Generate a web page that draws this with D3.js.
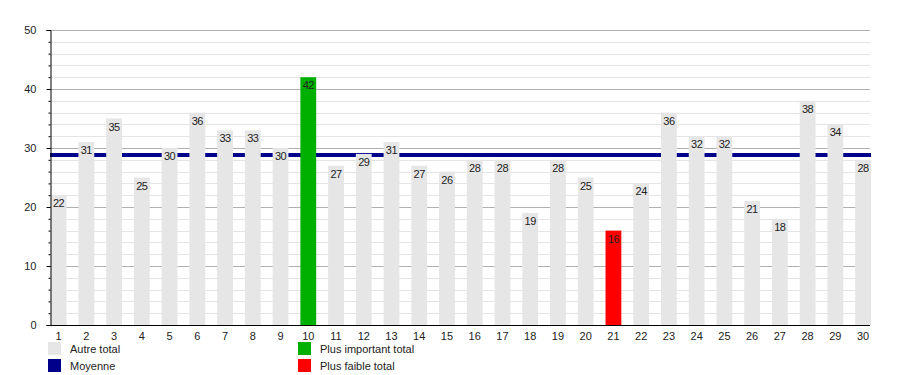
<!DOCTYPE html>
<html>
<head>
<meta charset="utf-8">
<script src="https://cdn.jsdelivr.net/npm/d3@7"></script>
<style>
  body { margin: 0; background: #fff; }
  svg { display: block; font-family: "Liberation Sans", Arial, sans-serif; }
</style>
</head>
<body>
<svg id="chart" width="900" height="375"></svg>
<script>
// data
var days = d3.range(1, 31).map(String);
var totals = [22, 31, 35, 25, 30, 36, 33, 33, 30, 42, 27, 29, 31, 27, 26,
              28, 28, 19, 28, 25, 16, 24, 36, 32, 32, 21, 18, 38, 34, 28];
var yTicks = [0, 10, 20, 30, 40, 50];
var legendItems = [
    {label: "Autre total", color: "#e6e6e6", col: 0, row: 0},
    {label: "Moyenne", color: "#00008b", col: 0, row: 1},
    {label: "Plus important total", color: "#00b000", col: 1, row: 0},
    {label: "Plus faible total", color: "#ff0000", col: 1, row: 1}
];

var svg = d3.select("#chart");
var plotLeft = 50, plotRight = 870, plotTop = 30, plotBottom = 325;

var x = d3.scaleBand()
    .domain(days)
    .range([plotLeft + 0.7, plotRight + 1])
    .paddingInner(0.43)
    .paddingOuter(0);

var y = d3.scaleLinear()
    .domain([0, 50])
    .range([plotBottom, plotTop]);

var maxV = d3.max(totals), minV = d3.min(totals);
var mean = d3.mean(totals);

var barColor = function(v) {
    if (v == maxV) return "#00b000";
    if (v == minV) return "#ff0000";
    return "#e6e6e6";
};

// grid: minor every 2, major every 10
var grid = svg.append("g");
grid.selectAll(".minor")
    .data(d3.range(2, 51, 2).filter(function(v) { return v % 10 != 0; }))
    .enter().append("line")
    .attr("x1", plotLeft).attr("x2", plotRight)
    .attr("y1", function(d) { return Math.round(y(d)) + 0.5; })
    .attr("y2", function(d) { return Math.round(y(d)) + 0.5; })
    .attr("stroke", "#e4e4e4");
grid.selectAll(".major")
    .data(yTicks.slice(1))
    .enter().append("line")
    .attr("x1", plotLeft).attr("x2", plotRight)
    .attr("y1", function(d) { return Math.round(y(d)) + 0.5; })
    .attr("y2", function(d) { return Math.round(y(d)) + 0.5; })
    .attr("stroke", "#b0b0b0");

// mean line sits behind the bars
svg.append("line")
    .attr("x1", plotLeft).attr("x2", plotRight + 1)
    .attr("y1", y(mean)).attr("y2", y(mean))
    .attr("stroke", "#00008b")
    .attr("stroke-width", 4);

var bars = svg.append("g").selectAll("g")
    .data(totals)
    .enter().append("g");

bars.append("rect")
    .attr("x", function(d, i) { return x(days[i]); })
    .attr("y", function(d) { return y(d); })
    .attr("width", x.bandwidth())
    .attr("height", function(d) { return plotBottom - y(d); })
    .attr("fill", barColor);

bars.append("text")
    .attr("x", function(d, i) { return x(days[i]) + x.bandwidth() / 2; })
    .attr("y", function(d) { return y(d) + 12; })
    .attr("text-anchor", "middle")
    .attr("font-size", 11)
    .attr("letter-spacing", -0.5)
    .attr("fill", "#222")
    .text(function(d) { return d; });

// y axis with minor ticks
var yAxis = svg.append("g")
    .attr("transform", "translate(" + (plotLeft + 0.5) + ",0)")
    .call(d3.axisLeft(y).tickValues(yTicks).tickSize(4).tickPadding(10));
yAxis.select(".domain").attr("stroke", "#000");
yAxis.selectAll("text").attr("font-size", 11).attr("fill", "#222")
    .attr("font-family", "Liberation Sans, Arial, sans-serif");
svg.append("g")
    .attr("transform", "translate(" + (plotLeft + 0.5) + ",0)")
    .call(d3.axisLeft(y).tickValues(d3.range(2, 50, 2)).tickSize(2).tickFormat(""))
    .select(".domain").remove();

// x axis
var xAxis = svg.append("g")
    .attr("transform", "translate(0," + (plotBottom + 0.5) + ")")
    .call(d3.axisBottom(x).tickSize(0).tickPadding(7));
xAxis.select(".domain").attr("d", "M" + plotLeft + ",0H" + plotRight).attr("stroke", "#000");
xAxis.selectAll("text").attr("font-size", 11).attr("fill", "#222")
    .attr("font-family", "Liberation Sans, Arial, sans-serif");

// legend
var legend = svg.append("g").selectAll("g")
    .data(legendItems)
    .enter().append("g")
    .attr("transform", function(d) {
        return "translate(" + (48 + d.col * 250) + "," + (342 + d.row * 17) + ")";
    });
legend.append("rect")
    .attr("width", 13).attr("height", 13)
    .attr("fill", function(d) { return d.color; });
legend.append("text")
    .attr("x", 22).attr("y", 11)
    .attr("font-size", 11)
    .attr("fill", "#222")
    .text(function(d) { return d.label; });
</script>
</body>
</html>
